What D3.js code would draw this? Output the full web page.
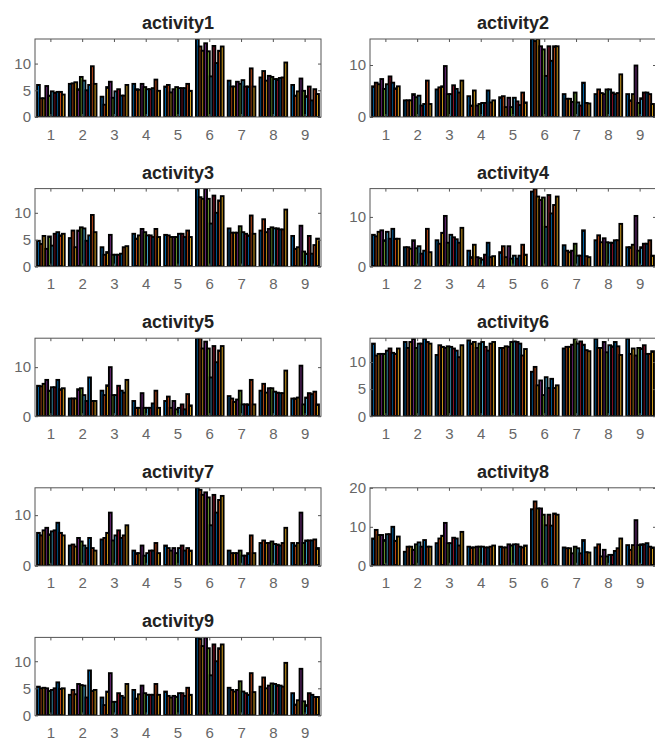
<!DOCTYPE html>
<html>
<head>
<meta charset="utf-8">
<script src="https://cdn.jsdelivr.net/npm/d3@7/dist/d3.min.js"></script>
<style>
  body { margin: 0; background: #fff; }
  svg text { font-family: "Liberation Sans", Arial, Helvetica, sans-serif; }
</style>
</head>
<body>
<div id="chart"></div>
<script>
var svgWidth = 655;
var svgHeight = 743;

// subplot titles and x categories
var titles = ["activity1", "activity2", "activity3", "activity4", "activity5",
  "activity6", "activity7", "activity8", "activity9"];
var groups = ["1", "2", "3", "4", "5", "6", "7", "8", "9"];
var series = ["s1", "s2", "s3", "s4", "s5", "s6", "s7", "s8", "s9", "s10"];

// one row per x group, ten bars per group
var activity1 = [
  [6.0, 3.5, 3.5, 5.8, 4.0, 4.8, 4.5, 4.7, 4.7, 4.2],
  [6.2, 6.3, 6.5, 5.2, 7.5, 6.8, 5.0, 6.0, 9.5, 6.2],
  [3.8, 2.3, 5.6, 6.6, 3.6, 4.8, 5.2, 4.0, 4.0, 6.0],
  [6.2, 5.2, 5.1, 6.2, 5.6, 5.2, 5.2, 5.4, 7.0, 4.9],
  [5.7, 6.0, 4.6, 5.2, 5.6, 5.4, 5.4, 5.4, 6.2, 4.9],
  [14.6, 13.2, 12.4, 13.8, 12.3, 7.6, 13.3, 10.1, 12.4, 13.2],
  [6.8, 5.7, 5.7, 6.6, 6.2, 6.9, 5.7, 5.7, 9.1, 5.7],
  [7.4, 8.6, 6.8, 7.7, 7.5, 7.1, 7.1, 7.3, 7.4, 10.2],
  [6.0, 4.0, 4.8, 7.2, 4.9, 3.9, 5.7, 3.1, 5.2, 4.3]
];
var activity2 = [
  [5.9, 6.6, 6.3, 7.3, 5.4, 6.3, 7.8, 6.6, 5.5, 5.9],
  [3.2, 3.2, 3.2, 4.4, 3.8, 4.1, 2.2, 2.5, 7.0, 2.5],
  [5.3, 5.7, 5.9, 9.8, 4.4, 4.4, 6.1, 5.4, 4.7, 7.0],
  [4.0, 2.2, 5.1, 2.2, 2.5, 2.7, 2.7, 5.1, 2.8, 3.2],
  [3.8, 4.0, 1.9, 3.7, 1.9, 3.7, 3.0, 2.3, 4.7, 2.8],
  [15.0, 14.6, 15.0, 13.6, 13.0, 7.9, 13.6, 10.8, 13.6, 13.6],
  [4.4, 3.5, 3.5, 2.9, 4.7, 2.8, 2.2, 6.6, 2.7, 2.6],
  [4.4, 5.3, 4.6, 4.4, 5.3, 5.3, 4.7, 4.4, 4.6, 8.2],
  [4.4, 3.2, 4.4, 9.9, 2.7, 3.6, 4.7, 4.7, 4.4, 2.5]
];
var activity3 = [
  [4.8, 4.2, 5.7, 3.3, 5.6, 3.9, 6.1, 6.4, 5.8, 6.1],
  [5.3, 6.7, 3.6, 6.7, 7.3, 7.1, 4.8, 5.8, 9.6, 6.4],
  [3.6, 2.2, 2.7, 5.9, 2.2, 2.2, 2.2, 2.4, 3.6, 3.8],
  [6.1, 5.2, 5.8, 7.0, 6.4, 5.8, 5.8, 5.5, 7.0, 5.5],
  [5.9, 5.8, 5.5, 5.5, 5.5, 6.1, 6.1, 5.5, 6.7, 5.5],
  [14.5, 12.9, 12.6, 14.5, 12.6, 8.0, 13.2, 10.0, 12.3, 13.1],
  [7.1, 6.3, 6.3, 6.3, 7.5, 6.4, 6.1, 5.8, 9.5, 6.1],
  [6.7, 8.8, 6.4, 7.0, 7.3, 7.1, 7.1, 6.9, 6.9, 10.6],
  [5.7, 3.3, 3.6, 7.6, 2.8, 2.4, 5.7, 2.4, 4.0, 5.2]
];
var activity4 = [
  [6.4, 6.1, 7.0, 7.3, 5.3, 7.0, 5.6, 7.6, 5.6, 5.6],
  [3.9, 3.9, 3.6, 5.3, 3.7, 4.1, 2.6, 3.2, 7.6, 2.9],
  [5.3, 4.6, 6.8, 10.2, 4.8, 6.4, 5.9, 5.5, 4.8, 7.8],
  [3.2, 1.9, 4.4, 1.9, 1.7, 1.4, 2.4, 4.8, 1.9, 2.1],
  [2.9, 4.1, 1.9, 4.1, 1.6, 2.2, 1.6, 2.2, 4.4, 2.4],
  [15.1, 15.7, 14.1, 13.4, 13.9, 8.0, 14.4, 10.7, 12.4, 14.1],
  [4.3, 3.2, 2.9, 3.2, 4.6, 2.2, 2.2, 7.3, 2.1, 1.9],
  [5.3, 6.3, 4.9, 5.7, 4.9, 4.8, 4.8, 5.3, 5.3, 8.6],
  [3.9, 3.9, 4.4, 10.2, 3.2, 3.9, 4.6, 4.6, 5.3, 2.2]
];
var activity5 = [
  [6.2, 6.1, 6.6, 7.4, 5.2, 5.9, 5.9, 7.4, 5.5, 5.7],
  [3.6, 3.6, 3.6, 5.5, 5.7, 4.3, 3.1, 7.9, 3.1, 3.1],
  [5.2, 4.3, 6.3, 10.0, 4.3, 4.3, 6.2, 5.2, 4.8, 7.4],
  [3.1, 1.7, 1.7, 4.7, 1.7, 1.7, 1.7, 2.6, 5.2, 1.7],
  [3.1, 4.0, 1.7, 3.1, 1.4, 1.7, 2.4, 1.4, 4.5, 2.2],
  [15.9, 15.9, 13.8, 15.2, 13.8, 7.9, 14.3, 11.0, 13.4, 14.3],
  [4.1, 3.6, 2.9, 3.4, 5.2, 2.4, 2.4, 2.4, 7.4, 2.4],
  [5.2, 6.6, 4.8, 5.7, 5.7, 5.0, 4.8, 4.7, 4.7, 9.3],
  [3.6, 3.6, 3.8, 10.3, 2.4, 3.8, 4.7, 4.5, 5.0, 2.4]
];
var activity6 = [
  [13.4, 11.2, 11.5, 11.5, 11.5, 12.1, 12.5, 11.7, 11.5, 12.5],
  [13.7, 12.6, 13.7, 14.3, 12.6, 13.4, 13.4, 14.3, 13.7, 13.4],
  [11.3, 13.1, 12.8, 12.6, 12.9, 12.8, 12.5, 12.1, 10.9, 13.1],
  [14.0, 13.4, 13.7, 12.6, 13.4, 13.7, 12.8, 12.1, 13.4, 13.7],
  [12.6, 12.6, 12.9, 12.8, 13.7, 13.8, 13.7, 13.4, 11.2, 12.4],
  [8.2, 9.1, 5.7, 6.6, 3.9, 7.2, 5.2, 6.9, 5.2, 5.7],
  [12.5, 12.8, 12.8, 13.2, 14.3, 13.4, 13.8, 13.2, 12.2, 12.0],
  [14.3, 12.6, 12.6, 13.7, 11.8, 13.1, 12.9, 13.7, 12.9, 11.3],
  [14.3, 11.5, 12.5, 11.2, 12.6, 12.5, 13.1, 11.5, 11.5, 12.0]
];
var activity7 = [
  [6.5, 6.0, 7.0, 7.5, 6.2, 6.8, 7.0, 8.5, 6.5, 6.0],
  [4.0, 4.2, 3.8, 5.5, 4.8, 4.0, 3.5, 5.5, 3.5, 3.0],
  [5.2, 5.5, 6.5, 10.5, 5.0, 6.0, 7.0, 5.5, 6.0, 8.0],
  [3.0, 2.5, 2.5, 4.0, 2.0, 2.5, 3.0, 3.0, 4.5, 2.5],
  [4.0, 3.5, 3.0, 3.5, 2.5, 3.5, 4.0, 3.0, 3.5, 3.0],
  [15.4, 15.0, 14.0, 14.5, 13.5, 8.0, 14.0, 10.5, 13.0, 13.8],
  [3.0, 2.5, 2.5, 2.5, 3.0, 2.0, 2.0, 2.5, 6.0, 2.5],
  [4.5, 5.0, 4.5, 4.5, 4.8, 4.3, 4.2, 4.0, 4.5, 7.5],
  [4.5, 4.0, 4.5, 10.5, 4.5, 5.0, 5.0, 5.0, 5.2, 3.5]
];
var activity8 = [
  [7.0, 9.2, 7.9, 7.9, 6.6, 8.1, 8.1, 10.0, 6.4, 7.5],
  [3.6, 4.9, 4.9, 4.1, 5.5, 6.0, 4.9, 6.6, 4.9, 4.9],
  [5.8, 7.0, 7.7, 11.0, 5.8, 5.8, 7.2, 7.0, 5.2, 8.7],
  [4.9, 4.7, 4.7, 4.9, 4.9, 4.9, 4.7, 4.7, 4.9, 5.2],
  [4.9, 4.7, 4.7, 5.5, 5.2, 5.5, 5.5, 4.9, 4.7, 5.2],
  [14.5, 16.5, 14.7, 14.7, 13.1, 10.4, 13.1, 10.3, 13.4, 13.1],
  [4.7, 4.5, 4.5, 3.2, 4.9, 4.5, 3.2, 6.6, 3.5, 3.4],
  [4.7, 5.5, 2.4, 4.1, 2.4, 2.8, 2.8, 3.8, 4.5, 7.0],
  [5.3, 4.1, 5.3, 11.7, 5.3, 5.5, 5.5, 5.8, 4.9, 4.7]
];
var activity9 = [
  [5.3, 5.0, 5.1, 5.0, 4.5, 4.7, 5.0, 6.1, 4.9, 5.0],
  [3.8, 4.7, 3.9, 5.8, 5.6, 5.5, 3.3, 8.3, 4.5, 4.7],
  [3.3, 1.9, 4.4, 7.8, 2.5, 2.5, 4.1, 3.6, 3.3, 5.8],
  [4.7, 3.1, 3.9, 5.5, 4.1, 3.8, 3.8, 3.8, 5.8, 3.8],
  [4.4, 3.6, 3.3, 3.6, 3.4, 4.1, 4.1, 3.6, 5.1, 3.8],
  [14.4, 14.1, 12.8, 14.4, 12.4, 7.4, 13.1, 10.0, 12.4, 13.1],
  [5.1, 4.7, 4.4, 4.7, 6.3, 4.4, 4.1, 3.8, 7.8, 4.3],
  [5.3, 7.0, 5.0, 5.5, 5.9, 5.8, 5.6, 5.5, 5.3, 9.7],
  [4.1, 2.0, 2.8, 8.6, 2.6, 1.9, 4.1, 3.8, 3.4, 3.4]
];
var allData = [activity1, activity2, activity3, activity4, activity5,
  activity6, activity7, activity8, activity9];

// y limits and tick labels for each subplot
var yMax = [14.6, 15.0, 14.5, 15.7, 15.9, 14.4, 15.4, 20, 14.4];
var yTicks = [[0, 5, 10], [0, 10], [0, 5, 10], [0, 10], [0, 10],
  [0, 5, 10], [0, 10], [0, 10, 20], [0, 5, 10]];

// matlab default color order
var colors = ["#0072BD", "#D95319", "#EDB120", "#7E2F8E", "#77AC30", "#4DBEEE", "#A2142F"];

var colX = [35, 370];
var axW = 286;
var axH = 78;
var rowTop = 39;
var rowStep = 149.6;

var svg = d3.select("#chart")
  .append("svg")
  .attr("width", svgWidth)
  .attr("height", svgHeight);

allData.forEach(function(data, i) {
  var left = colX[i % 2];
  var top = rowTop + Math.floor(i / 2) * rowStep;

  var g = svg.append("g")
    .attr("transform", `translate(${left}, ${top})`);

  var x = d3.scaleBand()
    .domain(groups)
    .range([0, axW])
    .paddingInner(0.13)
    .paddingOuter(0.065);

  var xs = d3.scaleBand()
    .domain(series)
    .range([0, x.bandwidth()]);

  var y = d3.scaleLinear()
    .domain([0, yMax[i]])
    .range([axH, 0]);

  g.append("clipPath")
    .attr("id", "clip" + i)
    .append("rect")
    .attr("width", axW)
    .attr("height", axH);

  // bars: thin bars with heavy black edges, so most look black
  var barsGroup = g.append("g")
    .attr("clip-path", `url(#clip${i})`);

  barsGroup.selectAll("g")
    .data(data)
    .enter()
    .append("g")
    .attr("transform", (d, gi) => `translate(${x(groups[gi])}, 0)`)
    .selectAll("rect")
    .data(d => d)
    .enter()
    .append("rect")
    .attr("x", (v, si) => xs(series[si]))
    .attr("y", v => y(v))
    .attr("width", xs.bandwidth())
    .attr("height", v => axH - y(v))
    .attr("fill", (v, si) => colors[si % colors.length])
    .attr("stroke", "#000")
    .attr("stroke-width", 1.9);

  // axes, matlab style with ticks pointing inside
  var bottomAxis = d3.axisBottom(x).tickSize(-3).tickPadding(12);
  var topAxis = d3.axisTop(x).tickSize(-3).tickFormat("");
  var leftAxis = d3.axisLeft(y).tickValues(yTicks[i]).tickSize(-3).tickPadding(4);
  var rightAxis = d3.axisRight(y).tickValues(yTicks[i]).tickSize(-3).tickFormat("");

  var axes = [
    g.append("g").attr("transform", `translate(0, ${axH})`).call(bottomAxis),
    g.append("g").call(topAxis),
    g.append("g").call(leftAxis),
    g.append("g").attr("transform", `translate(${axW}, 0)`).call(rightAxis)
  ];
  axes.forEach(function(a) {
    a.select(".domain").remove();
    a.selectAll("line").attr("stroke", "#555");
    a.selectAll("text")
      .attr("fill", "#666")
      .style("font-size", "15px");
  });

  g.append("rect")
    .attr("width", axW)
    .attr("height", axH)
    .attr("fill", "none")
    .attr("stroke", "#555")
    .attr("stroke-width", 1);

  g.append("text")
    .attr("x", axW / 2)
    .attr("y", -10)
    .attr("text-anchor", "middle")
    .attr("fill", "#222")
    .style("font-size", "18px")
    .style("font-weight", "bold")
    .text(titles[i]);
});
</script>
</body>
</html>
